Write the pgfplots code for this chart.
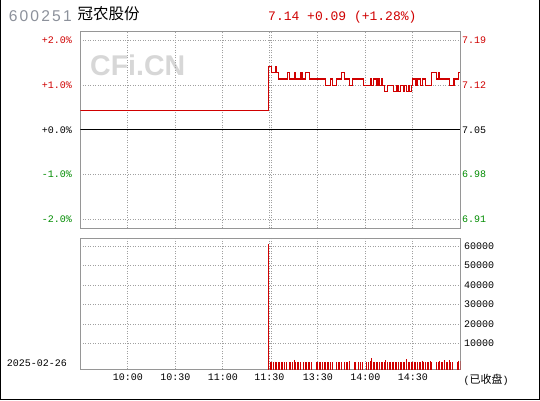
\documentclass[border=0pt]{standalone}
\usepackage{fontspec}
\usepackage{pgfplots}
\pgfplotsset{compat=1.18}
\usepackage{pgfplotstable}

\setmainfont{Liberation Sans}
\newfontfamily\mono{Liberation Mono}
\newfontfamily\cjk{Noto Sans CJK SC}
\newfontfamily\codefont[LetterSpace=14]{Liberation Sans}

\definecolor{upred}{RGB}{208,0,0}
\definecolor{dngreen}{RGB}{0,140,0}
\definecolor{boxgray}{RGB}{150,150,150}
\definecolor{gridgray}{RGB}{160,160,160}
\definecolor{codegray}{RGB}{140,145,155}
\definecolor{wmgray}{RGB}{215,215,215}

% intraday price, minute index (0 = 9:30, 120 = 11:30/13:00, 240 = 15:00)
\pgfplotstableread{
m p
0 7.08
119 7.15
121 7.14
123 7.15
124 7.14
125 7.13
131 7.14
132 7.13
135 7.14
136 7.13
139 7.14
140 7.13
142 7.14
145 7.13
155 7.12
158 7.13
159 7.12
162 7.13
165 7.14
167 7.13
170 7.12
172 7.13
179 7.12
183 7.13
184 7.12
185 7.13
187 7.12
188 7.13
189 7.12
190 7.13
191 7.12
192 7.11
194 7.12
198 7.11
200 7.12
201 7.11
202 7.12
204 7.11
205 7.12
206 7.11
207 7.12
208 7.11
209 7.12
210 7.13
212 7.12
213 7.13
215 7.12
216 7.13
218 7.12
222 7.14
225 7.13
226 7.14
227 7.13
233 7.12
236 7.13
239 7.14
240 7.14
}\price

% volume per minute
\pgfplotstableread{
m v
119 61000
120 450
121 400
122 500
123 800
124 450
125 400
126 450
127 650
128 400
129 600
130 400
132 400
133 450
134 450
135 1640
136 650
137 450
138 800
139 400
141 400
142 450
143 400
144 450
145 400
146 450
149 400
150 450
151 400
152 400
153 450
154 400
155 400
156 450
157 400
158 400
159 450
162 450
163 400
164 450
165 450
167 700
168 450
169 400
170 900
173 400
174 450
176 400
177 400
178 450
181 450
182 400
183 900
184 2660
185 450
186 400
187 450
188 400
189 450
190 400
191 450
192 400
193 1600
194 450
195 400
196 450
197 500
198 800
199 450
200 400
201 450
202 450
203 500
204 550
205 450
206 2150
207 700
208 400
209 500
210 450
211 800
212 450
213 400
214 400
215 450
216 1200
217 800
218 500
219 450
220 700
221 900
222 450
225 450
226 550
227 1000
228 500
229 450
230 1600
231 450
232 500
233 1400
234 550
235 450
238 450
239 1300
240 1100
}\vol

\pgfplotsset{
  panel/.style={
    scale only axis, width=380pt, xmin=0, xmax=240,
    scaled ticks=false,
    axis line style={boxgray, line width=1pt},
    grid=major,
    major grid style={gridgray, line width=0.8pt, dash pattern=on 1pt off 1.5pt},
    tick style={draw=none}, major tick length=0pt,
    xtick={30,60,90,119.35,120.65,150,180,210},
    ticklabel style={font=\mono\fontsize{10}{12}\selectfont, inner sep=0pt},
  },
}

\begin{document}
\begin{tikzpicture}
\useasboundingbox (0pt,0pt) rectangle (540pt,400pt);
\fill[white] (0pt,0pt) rectangle (540pt,400pt);
\draw[black, line width=1pt] (0.5pt,400pt) -- (0.5pt,0.5pt) -- (539.5pt,0.5pt) -- (539.5pt,400pt);

% header
\node[anchor=base west, inner sep=0pt, text=codegray, font=\codefont\fontsize{15.6}{16}\selectfont] at (8.6pt,378.7pt) {600251};
\node[anchor=base west, inner sep=0pt, font=\cjk\fontsize{15.5}{16}\selectfont] at (77.5pt,380pt) {冠农股份};
\node[anchor=base west, inner sep=0pt, text=upred, font=\mono\fontsize{13}{14}\selectfont] at (268pt,379.3pt) {7.14 +0.09 (+1.28\%)};

% watermark
\node[anchor=base west, inner sep=0pt, text=wmgray, font=\bfseries\fontsize{28.5}{30}\selectfont] at (90pt,325pt) {CFi.CN};

% price panel
\begin{axis}[panel, at={(80.3pt,171.7pt)}, anchor=south west, height=197pt,
  ymin=6.8949, ymax=7.2051,
  ytick={6.909,6.9795,7.05,7.1205,7.191},
  yticklabels={\textcolor{dngreen}{-2.0\%},\textcolor{dngreen}{-1.0\%},+0.0\%,\textcolor{upred}{+1.0\%},\textcolor{upred}{+2.0\%}},
  yticklabel style={anchor=east, xshift=-8.3pt},
  xticklabel=\empty,
]
\addplot[black, line width=1pt] coordinates {(0,7.05) (240,7.05)};
\addplot[upred, line width=1.1pt, const plot] table[x=m, y=p] {\price};
\end{axis}

% price scale on the right
\begin{axis}[scale only axis, width=380pt, height=197pt, at={(80.3pt,171.7pt)}, anchor=south west,
  xmin=0, xmax=240, ymin=6.8949, ymax=7.2051,
  scaled ticks=false,
  axis line style={draw=none}, tick style={draw=none}, major tick length=0pt,
  xtick=\empty,
  ytick={6.909,6.9795,7.05,7.1205,7.191},
  yticklabels={\textcolor{dngreen}{6.91},\textcolor{dngreen}{6.98},7.05,\textcolor{upred}{7.12},\textcolor{upred}{7.19}},
  yticklabel pos=right,
  yticklabel style={anchor=west, xshift=1.7pt, inner sep=0pt, font=\mono\fontsize{10}{12}\selectfont},
]
\end{axis}

% volume panel
\begin{axis}[panel, at={(80.3pt,30.7pt)}, anchor=south west, height=131pt,
  ymin=-3120, ymax=63920,
  ytick={10000,20000,30000,40000,50000,60000},
  yticklabels={10000,20000,30000,40000,50000,60000},
  yticklabel pos=right,
  yticklabel style={anchor=west, xshift=3.7pt},
  xticklabels={10:00,10:30,11:00,11:30,\empty,13:30,14:00,14:30},
  xticklabel style={anchor=center, yshift=-7.7pt},
]
\addplot[draw=none, mark=none,
  error bars/.cd, y dir=minus, y fixed=200000, error mark=none,
  error bar style={draw=upred, solid, line width=1.05pt}]
  table[x=m, y=v] {\vol};
\end{axis}

\node[anchor=west, inner sep=0pt, font=\mono\fontsize{10}{12}\selectfont] at (6.7pt,37pt) {2025-02-26};
\node[anchor=west, inner sep=0pt] at (463.3pt,20pt) {{\mono\fontsize{10}{12}\selectfont(}{\cjk\fontsize{11}{12}\selectfont 已收盘}{\mono\fontsize{10}{12}\selectfont)}};
\end{tikzpicture}
\end{document}
